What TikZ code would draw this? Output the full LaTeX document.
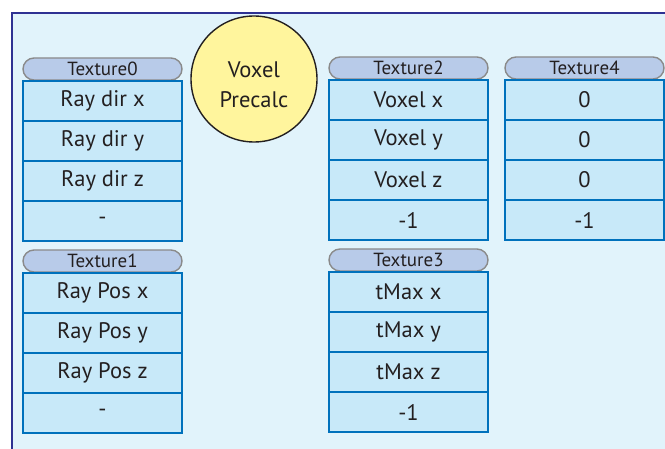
\documentclass[tikz,border=0pt]{standalone}
\usepackage{fontspec}
\setmainfont{PT Sans}
\definecolor{panelbg}{HTML}{E1F3FB}
\definecolor{framecol}{HTML}{2E3192}
\definecolor{cellfill}{HTML}{C8E9F9}
\definecolor{celledge}{HTML}{0071BC}
\definecolor{tabfill}{HTML}{B8CBE9}
\definecolor{tabedge}{HTML}{8A8A8A}
\definecolor{inkcol}{HTML}{231F20}
\definecolor{discfill}{HTML}{FFF59D}
\tikzset{
  cell/.style={draw=celledge, line width=1.8pt, fill=cellfill, minimum width=159pt,
    minimum height=40pt, inner sep=0pt, outer sep=0pt, text=inkcol,
    font=\fontsize{22.5}{24}\selectfont},
  tab/.style={draw=tabedge, line width=1.4pt, fill=tabfill, minimum width=159pt,
    minimum height=22pt, inner sep=0pt, outer sep=0pt, rounded corners=11pt, text=inkcol,
    font=\fontsize{19}{20}\selectfont},
  disc/.style={circle, draw=inkcol, line width=1.4pt, fill=discfill, minimum size=126pt,
    inner sep=0pt},
  disclabel/.style={align=center, text=inkcol, inner sep=0pt,
    font=\fontsize{22.5}{30}\selectfont},
}
% one texture column: tab label + four cells
\newcommand{\texcol}[8]{%
  % #1 name, #2 left x, #3 tab top y, #4 label, #5-#8 cell texts
  \node[tab, anchor=north west] (#1tab) at (#2,#3) {#4};
  \node[cell, anchor=north west] (#1a) at (#2,#3+23) {#5};
  \node[cell, anchor=north] (#1b) at (#1a.south) {#6};
  \node[cell, anchor=north] (#1c) at (#1b.south) {#7};
  \node[cell, anchor=north] (#1d) at (#1c.south) {#8};
}
\begin{document}
\begin{tikzpicture}[x=1pt, y=-1pt]
\useasboundingbox (0,0) rectangle (665,449);
\fill[white] (0,0) rectangle (665,449);
\fill[panelbg] (12,13) rectangle (665,449);
\draw[framecol, line width=2pt] (12,449) -- (12,13) -- (665,13);

\texcol{tzero}{23}{58}{Texture0}{Ray dir x}{Ray dir y}{Ray dir z}{-}
\texcol{tone}{23}{250}{Texture1}{Ray Pos x}{Ray Pos y}{Ray Pos z}{-}
\texcol{ttwo}{329}{57}{Texture2}{Voxel x}{Voxel y}{Voxel z}{-1}
\texcol{tthree}{329}{249}{Texture3}{tMax x}{tMax y}{tMax z}{-1}
\texcol{tfour}{505}{57}{Texture4}{0}{0}{0}{-1}

\node[disc] (precalc) at (254,79) {};
\node[disclabel] (precalctext) at (254,85) {Voxel\\Precalc};
\end{tikzpicture}
\end{document}
